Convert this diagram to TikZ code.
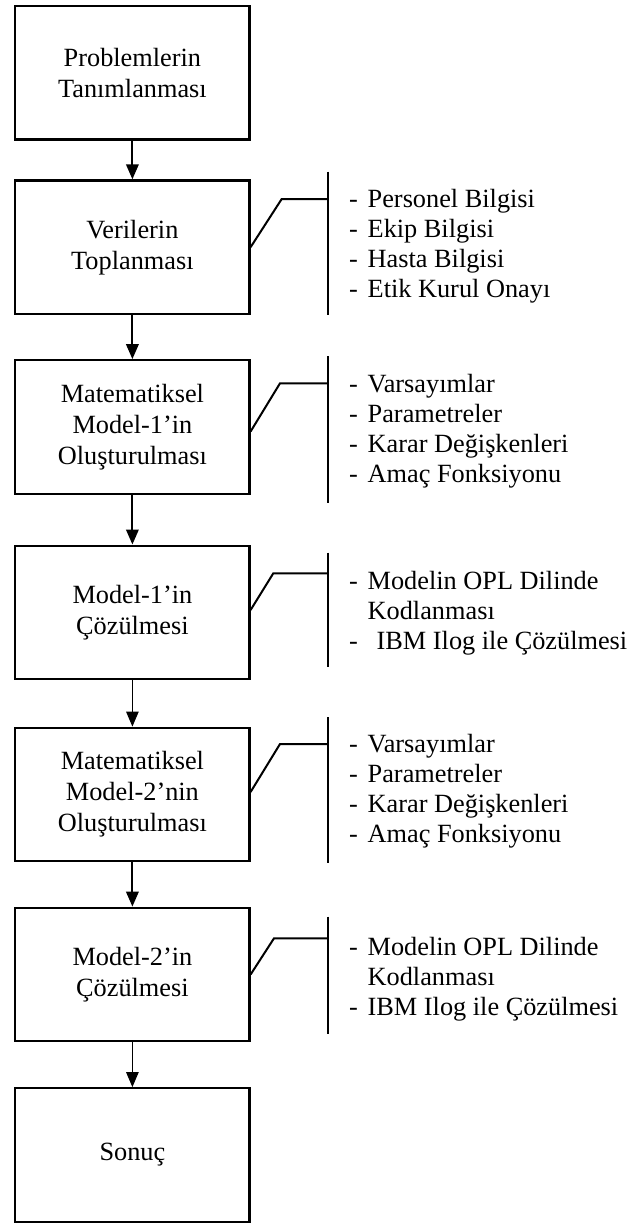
\documentclass[tikz,border=0pt]{standalone}
\usepackage{fontspec}
\setmainfont{Liberation Serif}
\usetikzlibrary{arrows.meta,calc}
\newcommand\dashitem{\makebox[18.5pt][l]{-}}
\begin{document}
\begin{tikzpicture}[x=1pt,y=-1pt,
  box/.style={draw, line width=2.2pt, minimum width=234.2pt, minimum height=133.6pt, align=center, inner sep=0pt, font=\fontsize{26.3}{31}\selectfont},
  arr/.style={line width=2pt, -{Triangle[width=12.5pt,length=15pt]}},
  tarr/.style={line width=1pt, -{Triangle[width=12.5pt,length=15pt]}},
  lead/.style={line width=2pt},
  barline/.style={line width=2pt},
  lst/.style={anchor=base west, inner sep=0pt, align=left, font=\fontsize{26.3}{30}\selectfont}]
\useasboundingbox (0,0) rectangle (629,1223);
\fill[white] (0,0) rectangle (629,1223);

\node[box] (b1) at (132.4,72.6) {Problemlerin\\Tanımlanması};
\node[box] (b2) at (132.4,247.2) {Verilerin\\Toplanması};
\node[box] (b3) at (132.4,427) {Matematiksel\\Model-1’in\\Oluşturulması};
\node[box] (b4) at (132.4,612.4) {Model-1’in\\Çözülmesi};
\node[box] (b5) at (132.4,794.5) {Matematiksel\\Model-2’nin\\Oluşturulması};
\node[box] (b6) at (132.4,974.5) {Model-2’in\\Çözülmesi};
\node[box] (b7) at (132.4,1155) {Sonuç};

\draw[arr] (b1) -- (b2);
\draw[arr] (b2) -- (b3);
\draw[arr] (b3) -- (b4);
\draw[tarr] (b4) -- (b5);
\draw[arr] (b5) -- (b6);
\draw[tarr] (b6) -- (b7);

% callout 2
\coordinate (k2) at (281.7,199);
\coordinate (p2) at (327.7,199);
\coordinate (s2a) at (327.7,171.7);
\coordinate (s2b) at (327.7,315);
\draw[lead] (b2.east) -- (k2) -- (p2);
\draw[barline] (s2a) -- (s2b);
\node[lst] (l2) at (349,297) {\dashitem Personel Bilgisi\\\dashitem Ekip Bilgisi\\\dashitem Hasta Bilgisi\\\dashitem Etik Kurul Onayı};

% callout 3
\coordinate (k3) at (280,383.3);
\coordinate (p3) at (327.7,383.3);
\coordinate (s3a) at (327.7,356);
\coordinate (s3b) at (327.7,502.7);
\draw[lead] ($(b3.east)+(0,4.5)$) -- (k3) -- (p3);
\draw[barline] (s3a) -- (s3b);
\node[lst] (l3) at (349,482) {\dashitem Varsayımlar\\\dashitem Parametreler\\\dashitem Karar Değişkenleri\\\dashitem Amaç Fonksiyonu};

% callout 4
\coordinate (k4) at (273.3,573.3);
\coordinate (p4) at (327.7,573.3);
\coordinate (s4a) at (327.7,552.7);
\coordinate (s4b) at (327.7,666.7);
\draw[lead] ($(b4.east)+(0,-2.4)$) -- (k4) -- (p4);
\draw[barline] (s4a) -- (s4b);
\node[lst] (l4) at (349,649) {\dashitem Modelin OPL Dilinde\\\hspace*{18.5pt}Kodlanması\\\dashitem\hspace{9pt}IBM Ilog ile Çözülmesi};

% callout 5
\coordinate (k5) at (280,744);
\coordinate (p5) at (327.7,744);
\coordinate (s5a) at (327.7,717);
\coordinate (s5b) at (327.7,862.7);
\draw[lead] ($(b5.east)+(0,-2.5)$) -- (k5) -- (p5);
\draw[barline] (s5a) -- (s5b);
\node[lst] (l5) at (349,842.7) {\dashitem Varsayımlar\\\dashitem Parametreler\\\dashitem Karar Değişkenleri\\\dashitem Amaç Fonksiyonu};

% callout 6
\coordinate (k6) at (274,938.3);
\coordinate (p6) at (327.7,938.3);
\coordinate (s6a) at (327.7,916.7);
\coordinate (s6b) at (327.7,1034);
\draw[lead] (b6.east) -- (k6) -- (p6);
\draw[barline] (s6a) -- (s6b);
\node[lst] (l6) at (349,1015) {\dashitem Modelin OPL Dilinde\\\hspace*{18.5pt}Kodlanması\\\dashitem IBM Ilog ile Çözülmesi};
\end{tikzpicture}
\end{document}
